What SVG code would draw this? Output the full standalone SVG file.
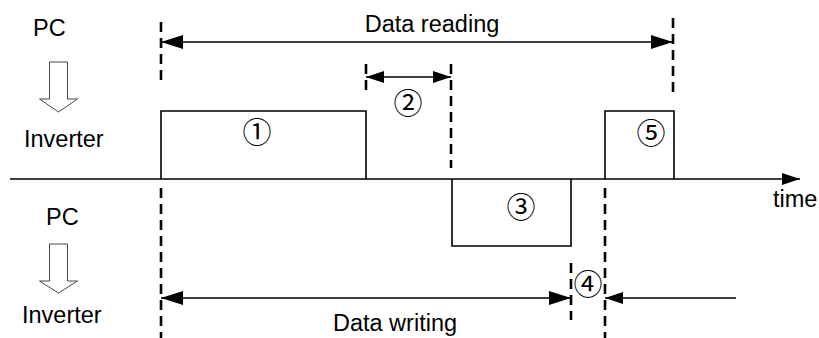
<svg xmlns="http://www.w3.org/2000/svg" width="819" height="338" viewBox="0 0 819 338">
<style>
.t{font-family:"Liberation Sans",Arial,sans-serif;font-size:23.5px;fill:#000}
.c{font-family:"Noto Sans CJK JP","DejaVu Sans",sans-serif;font-size:29px;fill:#000;text-anchor:middle;dominant-baseline:central}
.s{fill:none;stroke:#000;stroke-width:1.6}
.d{fill:none;stroke:#000;stroke-width:2.6;stroke-dasharray:10,6}
.h{fill:#fff;stroke:#444;stroke-width:1}
</style>
<defs>
<marker id="ah" markerUnits="userSpaceOnUse" markerWidth="22" markerHeight="14" refX="22" refY="7" orient="auto-start-reverse"><path d="M0,0 L22,7 L0,14 z" fill="#000"/></marker>
<marker id="ahs" markerUnits="userSpaceOnUse" markerWidth="18" markerHeight="12" refX="18" refY="6" orient="auto-start-reverse"><path d="M0,0 L18,6 L0,12 z" fill="#000"/></marker>
</defs>
<g id="labels">
<text class="t" x="33" y="36">PC</text>
<text class="t" x="24" y="147">Inverter</text>
<text class="t" x="46" y="225">PC</text>
<text class="t" x="22" y="323">Inverter</text>
<text class="t" x="773" y="207">time</text>
<text class="t" x="432" y="32" text-anchor="middle">Data reading</text>
<text class="t" x="395" y="331" text-anchor="middle">Data writing</text>
</g>
<g id="pc-arrow-top"><polygon class="h" points="49.5,62 67.5,62 67.5,99 77.5,99 58.5,112 39.5,99 49.5,99"/></g>
<g id="pc-arrow-bottom"><polygon class="h" points="49.5,244 67.5,244 67.5,281 77.5,281 58.5,293 39.5,281 49.5,281"/></g>
<g id="axis"><line class="s" x1="10" y1="179" x2="800" y2="179" marker-end="url(#ahs)"/></g>
<g id="frame1"><polyline class="s" points="161,179 161,111 366,111 366,179"/><text class="c" x="257" y="130">①</text></g>
<g id="frame2"><text class="c" x="408" y="101">②</text></g>
<g id="frame3"><polyline class="s" points="452,179 452,246 571,246 571,179"/><text class="c" x="521" y="205">③</text></g>
<g id="frame4"><text class="c" x="588" y="282">④</text></g>
<g id="frame5"><polyline class="s" points="605,179 605,111 674,111 674,179"/><text class="c" x="651" y="131">⑤</text></g>
<g id="connectors">
<line class="d" x1="161" y1="22" x2="161" y2="82"/>
<line class="d" x1="161" y1="188" x2="161" y2="338"/>
<line class="d" x1="366" y1="64" x2="366" y2="96"/>
<line class="d" x1="451" y1="64" x2="451" y2="168"/>
<line class="d" x1="673" y1="18" x2="673" y2="96"/>
<line class="d" x1="571" y1="263" x2="571" y2="320"/>
<line class="d" x1="605" y1="188" x2="605" y2="338"/>
<line class="s" x1="161" y1="42" x2="673" y2="42" marker-start="url(#ah)" marker-end="url(#ah)"/>
<line class="s" x1="366" y1="77" x2="451" y2="77" marker-start="url(#ahs)" marker-end="url(#ahs)"/>
<line class="s" x1="161" y1="298" x2="571" y2="298" marker-start="url(#ah)" marker-end="url(#ah)"/>
<line class="s" x1="736" y1="298" x2="605" y2="298" marker-end="url(#ahs)"/>
</g>
</svg>
